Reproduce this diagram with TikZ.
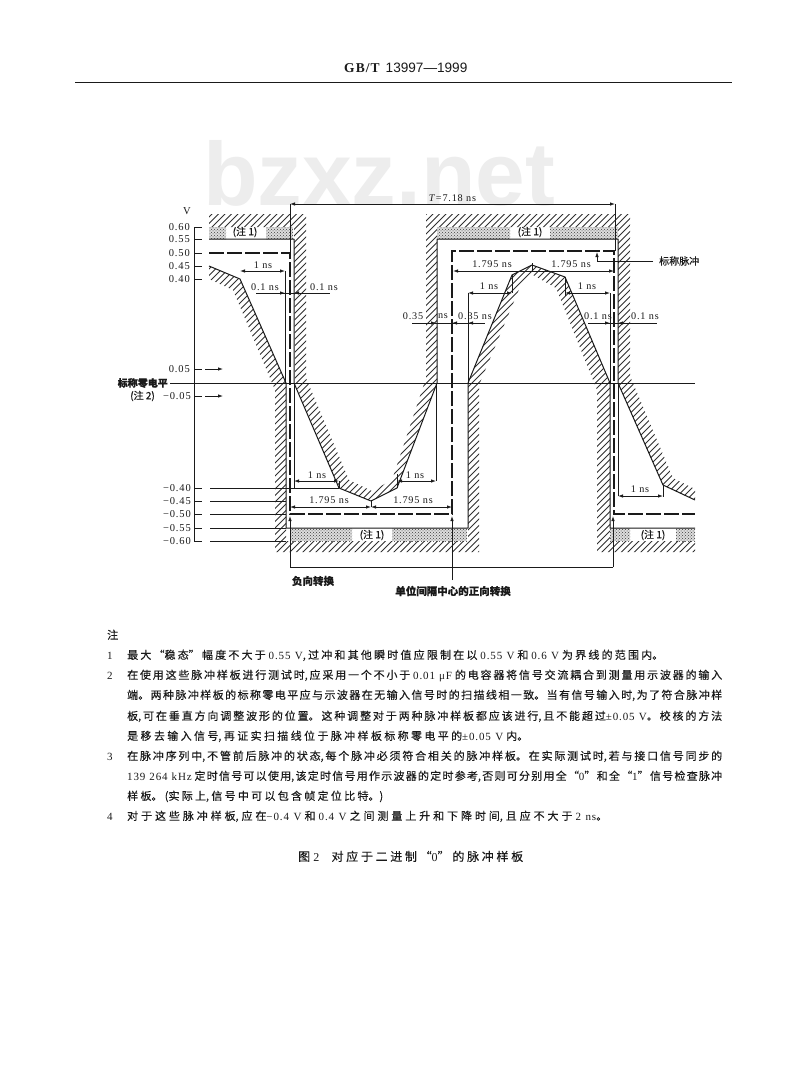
\documentclass[tikz,border=0pt]{standalone}
\usepackage{fontspec}
\usetikzlibrary{arrows.meta,patterns}
\setmainfont{Liberation Serif}
\newfontfamily\cjk[FakeBold=0.25]{Noto Sans CJK SC}
\newfontfamily\lat[LetterSpace=8]{Liberation Serif}
\newfontfamily\hdb[LetterSpace=8]{Liberation Serif Bold}
\newfontfamily\hdn{Liberation Sans}
\XeTeXlinebreaklocale "zh"
\XeTeXlinebreakskip=0pt plus 6pt minus 1pt
\newcommand\LT[1]{{\lat #1}}
\definecolor{ink}{HTML}{1A1A1A}
\definecolor{wm}{HTML}{EDEDED}
\tikzset{
  x=1pt,y=-1pt,
  limitline/.style={draw=ink,line width=1pt,line join=round},
  hatchline/.style={draw=ink!90,line width=0.75pt},
  thin line/.style={draw=ink,line width=0.8pt},
  nominal/.style={draw=ink,line width=1.2pt,dash pattern=on 15pt off 3pt},
  dim/.style={draw=ink,line width=0.8pt,{Latex[length=5pt,width=3.5pt]}-{Latex[length=5pt,width=3.5pt]}},
  tip/.style={draw=ink,line width=0.8pt,-{Latex[length=5pt,width=3.5pt]}},
  val/.style={font=\lat\fontsize{10.5}{11}\selectfont,text=ink,inner sep=0pt},
  small/.style={font=\lat\fontsize{10.2}{11}\selectfont,text=ink,inner sep=0pt},
  cn/.style={font=\cjk\fontsize{10}{11}\selectfont,text=ink,inner sep=0pt},
  cnb/.style={font=\cjk\bfseries\fontsize{10.5}{11}\selectfont,text=ink,inner sep=0pt},
  noteline/.style={font=\cjk\fontsize{11}{12}\selectfont,text=ink,inner sep=0pt,anchor=base west},
  numline/.style={font=\lat\fontsize{11}{12}\selectfont,text=ink,inner sep=0pt,anchor=base west},
  band/.style={fill=ink!15,draw=none},
  banddots/.style={pattern=crosshatch dots,pattern color=ink!85,draw=none},
}
\newcommand\hatchfill[1]{%
  \begin{scope}
    \clip #1;
    \foreach \c in {400,406.5,...,1260}{\draw[hatchline] (\c-200,200) -- (\c-560,560);}
  \end{scope}}
\newcommand\bandbox[2]{\fill[band] #1 rectangle #2; \fill[banddots] #1 rectangle #2;}
\newcommand\nl[4]{\node[noteline] (#1) at (127,#2) {\parbox[t]{#3pt}{\tolerance=9999\parfillskip=0pt\relax #4}};}
\begin{document}
\begin{tikzpicture}
\useasboundingbox (0,0) rectangle (800,1071);
\fill[white] (0,0) rectangle (800,1071);
% watermark
\node[text=wm,font=\fontspec{Liberation Sans Bold},inner sep=0pt,anchor=base west] (wmk) at (203,205) {\resizebox{352pt}{65pt}{bzxz.net}};
% header
\node[text=ink,inner sep=0pt,anchor=west] (head) at (344,68) {{\hdb\fontsize{13.5}{14}\selectfont GB/T}\hspace{6pt}{\hdn\fontsize{13.6}{15}\selectfont 13997—1999}};
\coordinate (ruleL) at (75,82); \coordinate (ruleR) at (732,82);
\draw[draw=ink,line width=1pt] (ruleL) -- (ruleR);
% bands
\bandbox{(209,227)}{(226,239)}
\bandbox{(266,227)}{(293,239)}
\bandbox{(437,227)}{(510,239)}
\bandbox{(550,227)}{(618,239)}
\bandbox{(290,528)}{(352,541)}
\bandbox{(392,528)}{(467,541)}
\bandbox{(610,528)}{(630,541)}
\bandbox{(676,528)}{(695,541)}
% hatch
\hatchfill{(209,214)--(306,214)--(306,378)--(349,480)--(372,491)--(392,480)--(426,378)--(426,214)--(630,214)--(630,376)--(673,478)--(695,489)--(695,500)--(663,485)--(618,383)--(618,227)--(437,227)--(437,383)--(397,488)--(371,501)--(339,488)--(295,383)--(294,227)--(209,227)--cycle}
\hatchfill{(209,266)--(240,279)--(286,383)--(286,541)--(468,541)--(468,383)--(512,275)--(532,265)--(565,277)--(610,383)--(610,541)--(695,541)--(695,552)--(597,552)--(597,390)--(556,288)--(533,275)--(520,287)--(479,385)--(479,552)--(275,552)--(275,390)--(233,290)--(209,279)--cycle}
% upper limit
\draw[limitline] (209,239) -- (294,239) -- (294,383) -- (339,488) -- (371,501) -- (397,488) -- (437,383) -- (437,239) -- (618,239) -- (618,383) -- (663,485) -- (695,500);
% lower limit
\draw[limitline] (209,266) -- (240,279) -- (286,383) -- (286,528) -- (468,528) -- (468,383) -- (512,275) -- (532,265) -- (565,277) -- (610,383) -- (610,528) -- (695,528);
% nominal pulse
\draw[nominal] (209,253) -- (290,253) -- (290,514) -- (452,514) -- (452,251) -- (614,251) -- (614,514) -- (695,514);
% axis
\coordinate (axT) at (194,227); \coordinate (axB) at (194,541);
\draw[draw=ink,line width=1pt] (axT) -- (axB);
\foreach \y in {227,239,253,266,279,369,396,488,501,514,528,541}{\draw[thin line] (194,\y) -- (202,\y);}
\node[val] (v) at (187,211) {V};
\foreach \y/\t in {227/0.60,239/0.55,253/0.50,266/0.45,279/0.40,369/0.05}{\node[val,anchor=east] at (190,\y) {\t};}
\foreach \y/\t in {396/−0.05,488/−0.40,501/−0.45,514/−0.50,528/−0.55,541/−0.60}{\node[val,anchor=east] at (191,\y) {\t};}
\node[cnb,anchor=east,font=\cjk\bfseries\fontsize{10}{11}\selectfont] (zero) at (168,383) {标称零电平};
\node[cn,anchor=east] (note2) at (155,396) {(注 2)};
% zero and extension lines
\coordinate (zL) at (170,383); \coordinate (zR) at (695,383);
\draw[thin line] (zL) -- (zR);
\draw[tip] (205,369) -- (223,369);
\draw[tip] (205,396) -- (223,396);
\draw[thin line] (210,488) -- (339,488);
\draw[thin line] (210,501) -- (286,501);
\draw[thin line] (210,514) -- (286,514);
\draw[thin line] (210,528) -- (286,528);
\draw[thin line] (210,541) -- (286,541);
% T line
\draw[thin line] (290,204) -- (290,253);
\draw[tip] (290,567) -- (290,516);
\draw[thin line] (290,567) -- (613,567);
\draw[tip] (613,567) -- (613,516);
\draw[thin line] (615,204) -- (615,251);
\draw[dim] (290,204) -- node[above=2pt,small] (tlab) {\textit{T}=7.18 ns} (615,204);
\draw[tip] (452,580) -- (452,516);
% dimensions upper left
\draw[dim] (240,271) -- (285,271);
\node[small] (d1) at (263,265) {1 ns};
\draw[thin line] (285,271) -- (285,383);
\draw[thin line] (256,293) -- (330,293);
\draw[tip] (270,293) -- (285,293);
\draw[tip] (316,293) -- (294,293);
\node[small] (d2) at (265,287) {0.1 ns};
\node[small] (d3) at (324,287) {0.1 ns};
% centre dims
\draw[thin line] (412,323) -- (485,323);
\draw[tip] (425,323) -- (436,323);
\draw[tip] (463,323) -- (452,323);
\draw[tip] (478,323) -- (468,323);
\node[small] (d4) at (413,316) {0.35};
\node[small] (d5) at (443,316) {ns};
\node[small] (d6) at (475,316) {0.35 ns};
\draw[dim] (453,271) -- (614,271);
\draw[thin line] (532,263) -- (532,271);
\node[small] (d7) at (492,264) {1.795 ns};
\node[small] (d8) at (571,264) {1.795 ns};
\draw[dim] (468,293) -- (512,293);
\draw[thin line] (512,275) -- (512,293);
\node[small] (d9) at (489,286) {1 ns};
\draw[dim] (565,293) -- (610,293);
\draw[thin line] (565,277) -- (565,296);
\draw[thin line] (610,293) -- (610,383);
\draw[thin line] (468,293) -- (468,383);
\node[small] (d10) at (587,286) {1 ns};
\draw[thin line] (588,323) -- (657,323);
\draw[tip] (598,323) -- (610,323);
\draw[tip] (632,323) -- (618,323);
\node[small] (d11) at (598,316) {0.1 ns};
\node[small] (d12) at (645,316) {0.1 ns};
% nominal label
\draw[tip] (653,261) -- (597,261) -- (597,252);
\node[cn,anchor=west] (nom) at (659,261) {标称脉冲};
% lower dims
\draw[thin line] (294,383) -- (294,488);
\draw[dim] (294,481) -- (339,481);
\draw[thin line] (339,481) -- (339,488);
\node[small] (d13) at (317,475) {1 ns};
\draw[dim] (290,507) -- (371,507);
\draw[dim] (371,507) -- (452,507);
\draw[thin line] (371,500) -- (371,507);
\node[small] (d14) at (329,500) {1.795 ns};
\node[small] (d15) at (413,500) {1.795 ns};
\draw[dim] (397,481) -- (436,481);
\draw[thin line] (397,474) -- (397,488);
\draw[thin line] (436,383) -- (436,481);
\node[small] (d16) at (415,475) {1 ns};
\draw[thin line] (618,383) -- (618,496);
\draw[dim] (618,496) -- (663,496);
\draw[thin line] (663,485) -- (663,497);
\node[small] (d17) at (640,489) {1 ns};
% note 1 labels
\node[cn] (a1) at (245,232) {(注 1)};
\node[cn] (a2) at (530,232) {(注 1)};
\node[cn] (a3) at (372,535) {(注 1)};
\node[cn] (a4) at (653,535) {(注 1)};
\node[cnb] (b1) at (313,581) {负向转换};
\node[cnb] (b2) at (453,591) {单位间隔中心的正向转换};
% notes
\node[noteline] (zhu) at (107,639) {注};
\node[numline] (i1) at (107,659) {1};
\node[numline] (i2) at (107,679) {2};
\node[numline] (i3) at (107,760) {3};
\node[numline] (i4) at (107,820) {4};
\nl{n1}{659}{536}{最大“稳态”幅度不大于 \LT{0.55 V},过冲和其他瞬时值应限制在以 \LT{0.55 V} 和 \LT{0.6 V} 为界线的范围内。}
\nl{n2}{679}{595}{在使用这些脉冲样板进行测试时,应采用一个不小于 \LT{0.01 μF} 的电容器将信号交流耦合到测量用示波器的输入}
\nl{n3}{699}{595}{端。两种脉冲样板的标称零电平应与示波器在无输入信号时的扫描线相一致。当有信号输入时,为了符合脉冲样}
\nl{n4}{720}{595}{板,可在垂直方向调整波形的位置。这种调整对于两种脉冲样板都应该进行,且不能超过\LT{±0.05 V}。校核的方法}
\nl{n5}{740}{401}{是移去输入信号,再证实扫描线位于脉冲样板标称零电平的\LT{±0.05 V} 内。}
\nl{n6}{760}{595}{在脉冲序列中,不管前后脉冲的状态,每个脉冲必须符合相关的脉冲样板。在实际测试时,若与接口信号同步的}
\nl{n7}{780}{595}{\LT{139 264 kHz} 定时信号可以使用,该定时信号用作示波器的定时参考,否则可分别用全“\LT{0}”和全“\LT{1}”信号检查脉冲}
\nl{n8}{800}{256}{样板。(实际上,信号中可以包含帧定位比特。)}
\nl{n9}{820}{480}{对于这些脉冲样板,应在\LT{−0.4 V} 和 \LT{0.4 V} 之间测量上升和下降时间,且应不大于 \LT{2 ns}。}
\node[noteline,font=\cjk\fontsize{12}{13}\selectfont] (cap) at (298,861) {\parbox[t]{225pt}{\tolerance=9999\parfillskip=0pt\relax 图 \LT{2}\quad 对应于二进制“\LT{0}”的脉冲样板}};
\end{tikzpicture}
\end{document}
